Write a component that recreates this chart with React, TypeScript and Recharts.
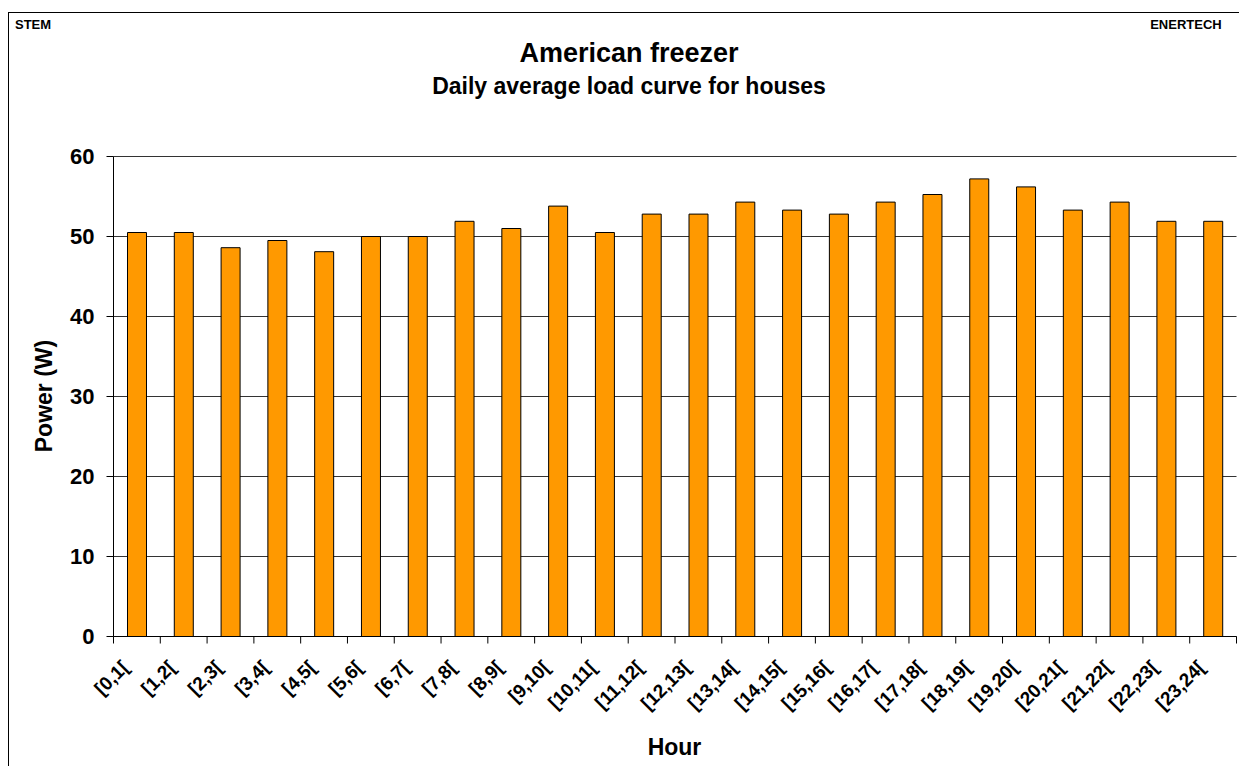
import React from 'react';
import { BarChart, Bar, XAxis, YAxis, CartesianGrid } from 'recharts';

// hourly slots and average power (W)
const hours = [
  '[0,1[', '[1,2[', '[2,3[', '[3,4[', '[4,5[', '[5,6[', '[6,7[', '[7,8[',
  '[8,9[', '[9,10[', '[10,11[', '[11,12[', '[12,13[', '[13,14[', '[14,15[', '[15,16[',
  '[16,17[', '[17,18[', '[18,19[', '[19,20[', '[20,21[', '[21,22[', '[22,23[', '[23,24[',
];
const power = [
  50.5, 50.5, 48.6, 49.5, 48.1, 50.0, 50.0, 51.9,
  51.0, 53.8, 50.5, 52.8, 52.8, 54.3, 53.3, 52.8,
  54.3, 55.25, 57.2, 56.2, 53.3, 54.3, 51.9, 51.9,
];
const yTicks = [0, 10, 20, 30, 40, 50, 60];

const data = hours.map((h, i) => ({ hour: h, power: power[i] }));

const FONT = '"Liberation Sans", Arial, Helvetica, sans-serif';
const CHART_W = 1239;
const CHART_H = 758;
// half-pixel offsets keep the 1px grid and axis lines crisp
const MARGIN = { top: 148.5, right: 10.5, bottom: 39.5, left: 0 };
const Y_AXIS_W = 105.5;
const X_AXIS_H = 90;
const BAND = (CHART_W - MARGIN.left - MARGIN.right - Y_AXIS_W) / hours.length;

function HourTick(props: any) {
  const { x, y, payload, index } = props;
  const half = BAND / 2;
  const tx = x - 7;
  const ty = y + 32;
  return (
    <g>
      <line x1={x - half} x2={x - half} y1={y} y2={y + 7} stroke="#000" strokeWidth={1} />
      {index === hours.length - 1 && (
        <line x1={x + half} x2={x + half} y1={y} y2={y + 7} stroke="#000" strokeWidth={1} />
      )}
      <text
        x={tx}
        y={ty}
        transform={`rotate(-45, ${tx}, ${ty})`}
        textAnchor="end"
        fontSize={19}
        fontWeight="bold"
        fontFamily={FONT}
        fill="#000"
      >
        {payload.value}
      </text>
    </g>
  );
}

export default function App() {
  return (
    <div
      style={{
        position: 'relative',
        width: CHART_W,
        height: CHART_H,
        overflow: 'hidden',
        fontFamily: FONT,
        background: '#fff',
      }}
    >
      {/* frame of the sheet (only top and left visible) */}
      <div
        style={{
          position: 'absolute',
          left: 0,
          top: 4,
          width: 1400,
          height: 1000,
          borderTop: '1px solid #000',
          borderLeft: '1px solid #000',
        }}
      />
      <BarChart
        width={CHART_W}
        height={CHART_H}
        data={data}
        margin={MARGIN}
        barSize={19}
        style={{ position: 'absolute', left: 0, top: 0 }}
      >
        <CartesianGrid vertical={false} stroke="#333" strokeWidth={1} />
        <XAxis
          dataKey="hour"
          interval={0}
          height={X_AXIS_H}
          tickLine={false}
          tickSize={0}
          tickMargin={0}
          axisLine={{ stroke: '#000', strokeWidth: 1 }}
          tick={<HourTick />}
        />
        <XAxis
          xAxisId="top"
          dataKey="hour"
          orientation="top"
          height={0}
          tick={false}
          tickLine={false}
          axisLine={{ stroke: '#999', strokeWidth: 1.5 }}
        />
        <YAxis
          width={Y_AXIS_W}
          domain={[0, 60]}
          ticks={yTicks}
          interval={0}
          tickSize={7}
          tickMargin={12}
          tickLine={{ stroke: '#000' }}
          axisLine={{ stroke: '#000', strokeWidth: 1 }}
          tick={{ fontSize: 22, fontWeight: 'bold', fill: '#000', fontFamily: FONT }}
        />
        <YAxis
          yAxisId="right"
          orientation="right"
          width={0}
          domain={[0, 60]}
          tick={false}
          tickLine={false}
          axisLine={{ stroke: '#999', strokeWidth: 1.5 }}
        />
        <Bar dataKey="power" fill="#FF9900" stroke="#000" strokeWidth={1} isAnimationActive={false} />
      </BarChart>
      <svg
        width={CHART_W}
        height={CHART_H}
        style={{ position: 'absolute', left: 0, top: 0, pointerEvents: 'none' }}
        fontFamily={FONT}
        fontWeight="bold"
        fill="#000"
      >
        <text x={7} y={21.3} fontSize={13}>STEM</text>
        <text x={1213.7} y={21} fontSize={13} textAnchor="end">ENERTECH</text>
        <text x={621} y={54.3} fontSize={27} textAnchor="middle">American freezer</text>
        <text x={621} y={86.3} fontSize={23} textAnchor="middle">Daily average load curve for houses</text>
        <text x={44.3} y={388} fontSize={23} textAnchor="middle" transform="rotate(-90, 44.3, 388)">
          Power (W)
        </text>
        <text x={666.5} y={747} fontSize={23} textAnchor="middle">Hour</text>
      </svg>
    </div>
  );
}
